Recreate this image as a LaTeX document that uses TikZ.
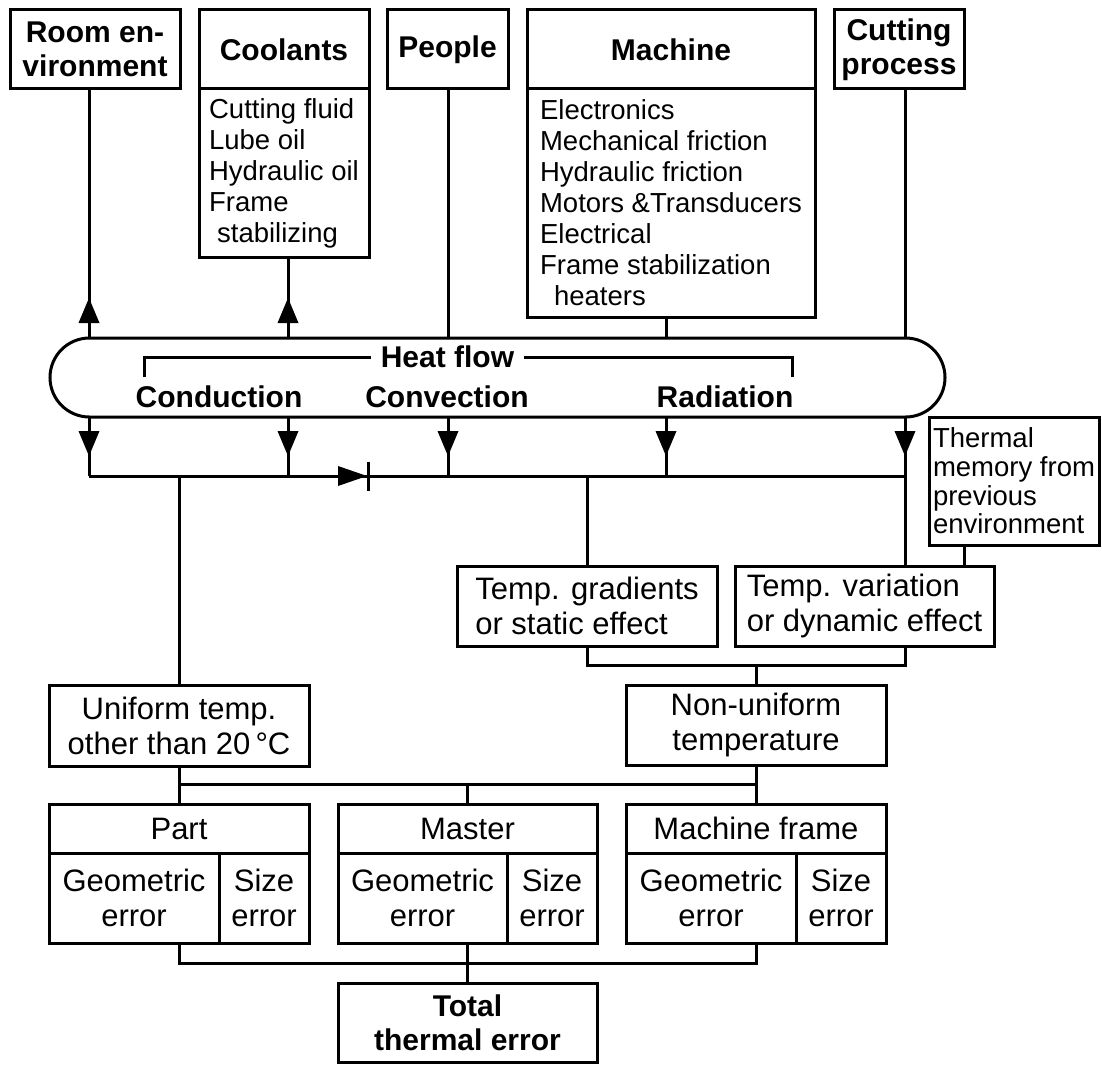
\documentclass[tikz,border=0pt]{standalone}
\usepackage{fontspec}
\setmainfont{Liberation Sans}
\newcommand\listfont{\fontsize{27.5}{31}\selectfont}
\newcommand\boxfont{\fontsize{31}{35}\selectfont}
\newcommand\headfont{\fontsize{30}{34}\selectfont\bfseries}
\newcommand\memfont{\fontsize{27.5}{28.6}\selectfont}
\begin{document}
\begin{tikzpicture}[x=1pt,y=-1pt,line width=3pt,
  bx/.style={draw,rectangle,inner sep=0pt,outer sep=0pt,align=center},
  lbx/.style={draw,rectangle,inner sep=0pt,outer sep=0pt,align=left},
  lbl/.style={inner sep=0pt,outer sep=0pt,font=\headfont}]
\useasboundingbox (0,0) rectangle (1102,1070);

% top boxes
\node[bx,minimum width=170pt,minimum height=79pt,font=\headfont] (room) at (95,49.5) {Room en-\\vironment};
\node[bx,minimum width=170pt,minimum height=79pt,font=\headfont] (coolhead) at (284,49.5) {Coolants};
\node[lbx,minimum width=170pt,minimum height=168pt,font=\listfont] (coollist) at (284,173)
  {Cutting fluid\\Lube oil\\Hydraulic oil\\Frame\\\hspace*{8pt}stabilizing};
\node[bx,minimum width=121pt,minimum height=79pt,font=\headfont] (people) at (447.5,49.5) {People};
\node[bx,minimum width=288pt,minimum height=79pt,font=\headfont] (machhead) at (671,49.5) {Machine};
\node[lbx,minimum width=288pt,minimum height=228pt,font=\listfont] (machlist) at (671,203)
  {Electronics\\Mechanical friction\\Hydraulic friction\\Motors \&Transducers\\Electrical\\Frame stabilization\\\hspace*{14pt}heaters};
\node[bx,minimum width=130pt,minimum height=79pt,font=\headfont] (cut) at (899,49.5) {Cutting\\process};

% heat flow
\node[draw,rectangle,rounded corners=39.5pt,inner sep=0pt,outer sep=0pt,minimum width=895pt,minimum height=79pt] (hf) at (497.5,377.5) {};
\node[lbl,inner xsep=9.5pt] (hflabel) at (447.5,357) {Heat flow};
\node[lbl] (cond) at (219,397) {Conduction};
\node[lbl] (conv) at (447,397) {Convection};
\node[lbl] (rad) at (725,397) {Radiation};
\coordinate (bl) at (144,377);
\coordinate (br) at (792,377);
\draw (hflabel.west) -| (bl);
\draw (hflabel.east) -| (br);

% lower boxes
\node[lbx,minimum width=170pt,minimum height=128pt,font=\memfont] (therm) at (1014,481)
  {Thermal\\memory from\\previous\\environment};
\node[lbx,minimum width=260pt,minimum height=80pt,font=\boxfont] (grad) at (587,606)
  {Temp. gradients\\or static effect};
\node[lbx,minimum width=259pt,minimum height=80pt,font=\boxfont] (var) at (864.5,606)
  {Temp. variation\\or dynamic effect};
\node[bx,minimum width=260pt,minimum height=81pt,font=\boxfont] (uni) at (179,725.5)
  {Uniform temp.\\other than 20\,°C};
\node[bx,minimum width=260pt,minimum height=80pt,font=\boxfont] (nonuni) at (756,725)
  {Non-uniform\\temperature};

\node[bx,minimum width=260pt,minimum height=49pt,font=\boxfont] (parthead) at (179,828.5) {Part};
\node[bx,minimum width=170pt,minimum height=90pt,font=\boxfont] (partgeo) at (134,898) {Geometric\\error};
\node[bx,minimum width=90pt,minimum height=90pt,font=\boxfont] (partsize) at (264,898) {Size\\error};

\node[bx,minimum width=259pt,minimum height=49pt,font=\boxfont] (masthead) at (467.5,828.5) {Master};
\node[bx,minimum width=169pt,minimum height=90pt,font=\boxfont] (mastgeo) at (422.5,898) {Geometric\\error};
\node[bx,minimum width=90pt,minimum height=90pt,font=\boxfont] (mastsize) at (552,898) {Size\\error};

\node[bx,minimum width=260pt,minimum height=49pt,font=\boxfont] (mfhead) at (756,828.5) {Machine frame};
\node[bx,minimum width=170pt,minimum height=90pt,font=\boxfont] (mfgeo) at (711,898) {Geometric\\error};
\node[bx,minimum width=90pt,minimum height=90pt,font=\boxfont] (mfsize) at (841,898) {Size\\error};

\node[bx,minimum width=259pt,minimum height=79pt,font=\headfont] (total) at (467.5,1022.5) {Total\\thermal error};

% connector x positions
\coordinate (xR) at (89,0);
\coordinate (xC) at (288,0);
\coordinate (xP) at (448,0);
\coordinate (xM) at (666,0);
\coordinate (xK) at (905,0);
\coordinate (xT) at (964,0);
\coordinate (bus) at (0,476);
\coordinate (j1) at (0,665);
\coordinate (j2) at (0,784);
\coordinate (j3) at (0,963);
\coordinate (dio) at (367,476);
\coordinate (utip) at (0,298);
\coordinate (dtip) at (0,456);

% sources to heat flow
\draw (xR |- hf.north) -- (xR |- room.south);
\draw (xC |- hf.north) -- (xC |- coollist.south);
\draw (xP |- hf.north) -- (xP |- people.south);
\draw (xM |- hf.north) -- (xM |- machlist.south);
\draw (xK |- hf.north) -- (xK |- cut.south);
\foreach \c in {xR,xC}{
  \path (\c |- utip) coordinate (t);
  \fill ([shift={(-10.5,25)}]t) -- (t) -- ([shift={(10.5,25)}]t) -- cycle;
}

% heat flow down
\draw (xR |- hf.south) -- (xR |- bus);
\draw (xC |- hf.south) -- (xC |- bus);
\draw (xP |- hf.south) -- (xP |- bus);
\draw (xM |- hf.south) -- (xM |- bus);
\draw (xK |- hf.south) -- (xK |- var.north);
\foreach \c in {xR,xC,xP,xM,xK}{
  \path (\c |- dtip) coordinate (t);
  \fill ([shift={(-10.5,-25)}]t) -- (t) -- ([shift={(10.5,-25)}]t) -- cycle;
}
\draw (xR |- bus) -- (xK |- bus);
\fill ([shift={(-29,-10)}]dio) -- (dio) -- ([shift={(-29,10)}]dio) -- cycle;
\draw ([shift={(1,-14.5)}]dio) -- ([shift={(1,14.5)}]dio);

\draw (uni.north |- bus) -- (uni.north);
\draw (grad.north |- bus) -- (grad.north);
\draw (xT |- therm.south) -- (xT |- var.north);

% joins
\draw (grad.south) -- (grad.south |- j1) -- (xK |- j1) -- (xK |- var.south);
\draw (nonuni.north |- j1) -- (nonuni.north);
\draw (uni.south) -- (uni.south |- j2) -- (nonuni.south |- j2) -- (nonuni.south);
\draw (parthead.north |- j2) -- (parthead.north);
\draw (masthead.north |- j2) -- (masthead.north);
\draw (mfhead.north |- j2) -- (mfhead.north);
\draw (parthead.north |- partgeo.south) -- (parthead.north |- j3) -- (mfhead.north |- j3) -- (mfhead.north |- mfgeo.south);
\draw (masthead.north |- mastgeo.south) -- (total.north);
\end{tikzpicture}
\end{document}
